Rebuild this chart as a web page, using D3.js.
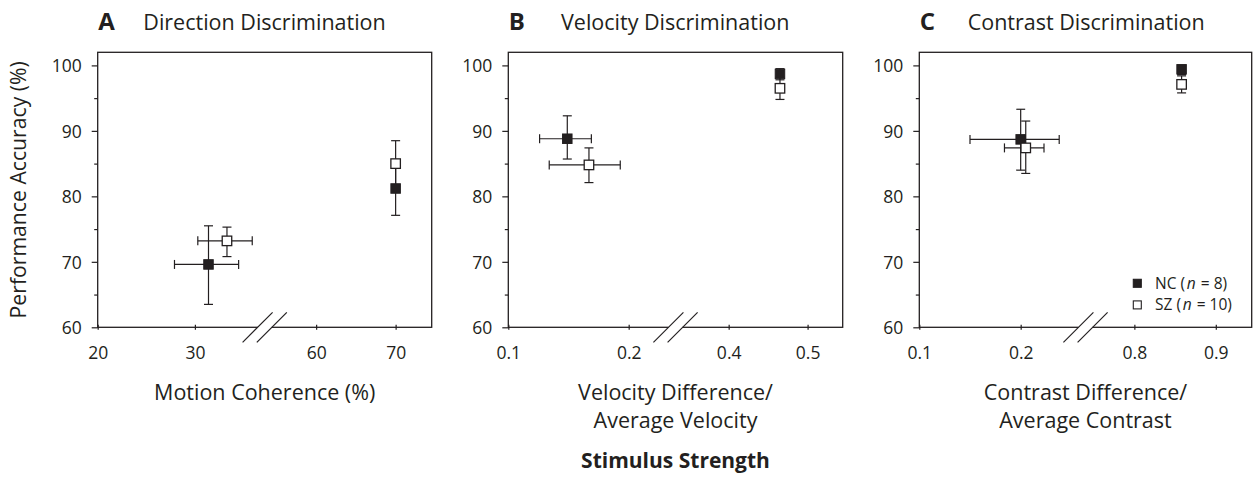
<!DOCTYPE html>
<html>
<head>
<meta charset="utf-8">
<script src="https://cdn.jsdelivr.net/npm/d3@7"></script>
<style>
  body { margin: 0; background: #fff; }
  svg { display: block; font-family: "Open Sans", sans-serif; fill: #231f20; }
</style>
</head>
<body>
<svg></svg>
<script>
// panel letters, titles and x axis titles
let letters = ["A", "B", "C"];
let titles = ["Direction Discrimination", "Velocity Discrimination", "Contrast Discrimination"];
let xTitles = [["Motion Coherence (%)"], ["Velocity Difference/", "Average Velocity"], ["Contrast Difference/", "Average Contrast"]];

// x tick values (axis is broken between 2nd and 3rd tick)
let dirTicks = [20, 30, 60, 70];
let velTicks = [0.1, 0.2, 0.4, 0.5];
let conTicks = [0.1, 0.2, 0.8, 0.9];
let dirTickLabels = ["20", "30", "60", "70"];
let velTickLabels = ["0.1", "0.2", "0.4", "0.5"];
let conTickLabels = ["0.1", "0.2", "0.8", "0.9"];

// y ticks, performance accuracy (%)
let yTicks = [60, 70, 80, 90, 100];
let yMinorTicks = [65, 75, 85, 95];

// group means with error bar ends (x low/high, y low/high)
let dirNC = [
  { x: 31.4, xLo: 27.9, xHi: 34.5, y: 69.6, yLo: 63.5, yHi: 75.5 },
  { x: 70, xLo: 70, xHi: 70, y: 81.2, yLo: 77.1, yHi: 85.0 }
];
let dirSZ = [
  { x: 33.3, xLo: 30.3, xHi: 35.9, y: 73.2, yLo: 70.8, yHi: 75.3 },
  { x: 70, xLo: 70, xHi: 70, y: 85.0, yLo: 81.5, yHi: 88.5 }
];
let velNC = [
  { x: 0.149, xLo: 0.126, xHi: 0.169, y: 88.8, yLo: 85.7, yHi: 92.3 },
  { x: 0.465, xLo: 0.465, xHi: 0.465, y: 98.7, yLo: 97.8, yHi: 99.5 }
];
let velSZ = [
  { x: 0.167, xLo: 0.134, xHi: 0.193, y: 84.8, yLo: 82.1, yHi: 87.4 },
  { x: 0.465, xLo: 0.465, xHi: 0.465, y: 96.5, yLo: 94.8, yHi: 98.2 }
];
let conNC = [
  { x: 0.2, xLo: 0.150, xHi: 0.238, y: 88.7, yLo: 84.0, yHi: 93.3 },
  { x: 0.858, xLo: 0.858, xHi: 0.858, y: 99.4, yLo: 98.6, yHi: 100.0 }
];
let conSZ = [
  { x: 0.205, xLo: 0.184, xHi: 0.223, y: 87.4, yLo: 83.5, yHi: 91.5 },
  { x: 0.858, xLo: 0.858, xHi: 0.858, y: 97.1, yLo: 95.8, yHi: 98.4 }
];

let legendLabels = [["NC (", "n", "= 8)"], ["SZ (", "n", "= 10)"]];

// layout
let width = 1258;
let height = 486;
let ink = "#231f20";
let plotTop = 52.3;
let plotH = 275;
let lefts = [97.7, 508.3, 919.3];
let widths = [334, 334.4, 332.4];
// where each x tick sits, as fraction of panel width
let tickFracs = [[0, 0.291, 0.654, 0.892], [0, 0.36, 0.659, 0.895], [0, 0.305, 0.647, 0.892]];
let titleOffsets = [45.6, 52.7, 48.4];

let panels = [
  { ticks: dirTicks, labels: dirTickLabels, nc: dirNC, sz: dirSZ },
  { ticks: velTicks, labels: velTickLabels, nc: velNC, sz: velSZ },
  { ticks: conTicks, labels: conTickLabels, nc: conNC, sz: conSZ }
];

let svg = d3.select("svg").attr("width", width).attr("height", height);

let yScale = d3.scaleLinear().domain([60, 102]).range([plotH, 0]);

// broken x scale: two linear pieces meeting at the break in the middle
let brokenScale = function(ticks, fracs, w) {
  let bx = w / 2;
  let left = d3.scaleLinear().domain([ticks[0], ticks[1]]).range([fracs[0] * w, fracs[1] * w]);
  let right = d3.scaleLinear().domain([ticks[2], ticks[3]]).range([fracs[2] * w, fracs[3] * w]);
  return d3.scaleLinear()
           .domain([ticks[0], ticks[1], left.invert(bx), right.invert(bx), ticks[2], ticks[3]])
           .range([left(ticks[0]), left(ticks[1]), bx, bx, right(ticks[2]), right(ticks[3])]);
}

panels.forEach(function(p, i) {
  let w = widths[i];
  let xScale = brokenScale(p.ticks, tickFracs[i], w);

  let g = svg.append("g").attr("transform", "translate(" + lefts[i] + "," + plotTop + ")");

  // frame
  g.append("rect")
   .attr("width", w).attr("height", plotH)
   .attr("fill", "none").attr("stroke", ink).attr("stroke-width", 1.3);

  // y axis major + minor
  let yAxis = g.append("g")
     .call(d3.axisLeft(yScale).tickValues(yTicks).tickSize(6).tickPadding(10));
  let yMinor = g.append("g")
     .call(d3.axisLeft(yScale).tickValues(yMinorTicks).tickSize(3.5).tickFormat(""));
  [yAxis, yMinor].forEach(function(a) {
    a.select(".domain").remove();
    a.selectAll("line").attr("stroke", ink).attr("stroke-width", 1.2);
  });
  yAxis.selectAll("text")
       .attr("x", -16).attr("dy", "0.36em")
       .style("font-size", "17.5px").style("font-family", "Open Sans").attr("fill", ink);

  // x axis ticks cross the bottom line
  let xAxis = g.append("g")
     .attr("transform", "translate(0," + (plotH - 2.5) + ")")
     .call(d3.axisBottom(xScale).tickValues(p.ticks).tickSize(5).tickFormat((d, j) => p.labels[j]));
  xAxis.select(".domain").remove();
  xAxis.selectAll("line").attr("stroke", ink).attr("stroke-width", 1.2);
  xAxis.selectAll("text")
       .attr("y", 34.5).attr("dy", null)
       .style("font-size", "17.5px").style("font-family", "Open Sans").attr("fill", ink);

  // axis break in the middle of the bottom line
  let bx = w / 2;
  g.append("rect")
   .attr("x", bx - 7.1).attr("y", plotH - 3).attr("width", 14.2).attr("height", 6)
   .attr("fill", "#fff");
  [-7.1, 7.1].forEach(function(off) {
    g.append("line")
     .attr("x1", bx + off - 15).attr("y1", plotH + 15)
     .attr("x2", bx + off + 15).attr("y2", plotH - 15)
     .attr("stroke", ink).attr("stroke-width", 1.2);
  });

  // error bars
  let pts = p.nc.concat(p.sz);
  let bars = g.append("g").attr("stroke", ink).attr("stroke-width", 1.2);
  pts.forEach(function(d) {
    let cx = xScale(d.x), cy = yScale(d.y);
    bars.append("line").attr("x1", cx).attr("x2", cx).attr("y1", yScale(d.yLo)).attr("y2", yScale(d.yHi));
    [d.yLo, d.yHi].forEach(function(v) {
      bars.append("line").attr("x1", cx - 4.5).attr("x2", cx + 4.5).attr("y1", yScale(v)).attr("y2", yScale(v));
    });
    if (d.xHi > d.xLo) {
      bars.append("line").attr("x1", xScale(d.xLo)).attr("x2", xScale(d.xHi)).attr("y1", cy).attr("y2", cy);
      [d.xLo, d.xHi].forEach(function(v) {
        bars.append("line").attr("x1", xScale(v)).attr("x2", xScale(v)).attr("y1", cy - 4.5).attr("y2", cy + 4.5);
      });
    }
  });

  // markers: NC filled, SZ open
  g.selectAll("rect.nc")
   .data(p.nc).enter().append("rect")
   .attr("class", "nc")
   .attr("x", (d) => xScale(d.x) - 4.75).attr("y", (d) => yScale(d.y) - 4.75)
   .attr("width", 9.5).attr("height", 9.5)
   .attr("fill", ink).attr("stroke", ink).attr("stroke-width", 1);
  g.selectAll("rect.sz")
   .data(p.sz).enter().append("rect")
   .attr("class", "sz")
   .attr("x", (d) => xScale(d.x) - 4.75).attr("y", (d) => yScale(d.y) - 4.75)
   .attr("width", 9.5).attr("height", 9.5)
   .attr("fill", "#fff").attr("stroke", ink).attr("stroke-width", 1.3);

  // panel letter and title
  svg.append("text")
     .attr("x", lefts[i] + 0.5).attr("y", 30)
     .style("font-size", "24px").style("font-weight", "bold")
     .text(letters[i]);
  svg.append("text")
     .attr("x", lefts[i] + titleOffsets[i]).attr("y", 30)
     .style("font-size", "21.5px")
     .text(titles[i]);

  // x axis title
  xTitles[i].forEach(function(t, k) {
    svg.append("text")
       .attr("x", lefts[i] + w / 2).attr("y", 400 + k * 28.3)
       .attr("text-anchor", "middle")
       .style("font-size", "21.5px")
       .text(t);
  });

  // legend in last panel, pieces laid out one after the other
  if (i === 2) {
    let lg = g.append("g").attr("transform", "translate(" + (w - 114.4) + "," + (plotH - 44) + ")");
    legendLabels.forEach(function(lab, k) {
      lg.append("rect")
        .attr("x", -4).attr("y", k * 21.6 - 4).attr("width", 8).attr("height", 8)
        .attr("fill", k === 0 ? ink : "#fff").attr("stroke", ink).attr("stroke-width", 1.1);
      let tx = 17.7;
      lab.forEach(function(piece, j) {
        let t = lg.append("text").attr("x", tx).attr("y", k * 21.6 + 5.6)
                  .style("font-size", "15.5px")
                  .style("font-style", j === 1 ? "italic" : "normal")
                  .text(piece);
        tx += t.node().getComputedTextLength() + (j === 0 ? 1.8 : 5);
      });
    });
  }
});

// shared y axis title
svg.append("text")
   .attr("transform", "translate(26," + (plotTop + plotH / 2) + ") rotate(-90)")
   .attr("text-anchor", "middle")
   .style("font-size", "21.2px")
   .text("Performance Accuracy (%)");

// overall x label
svg.append("text")
   .attr("x", lefts[1] + widths[1] / 2).attr("y", 468)
   .attr("text-anchor", "middle")
   .style("font-size", "21px").style("font-weight", "bold")
   .text("Stimulus Strength");
</script>
</body>
</html>
